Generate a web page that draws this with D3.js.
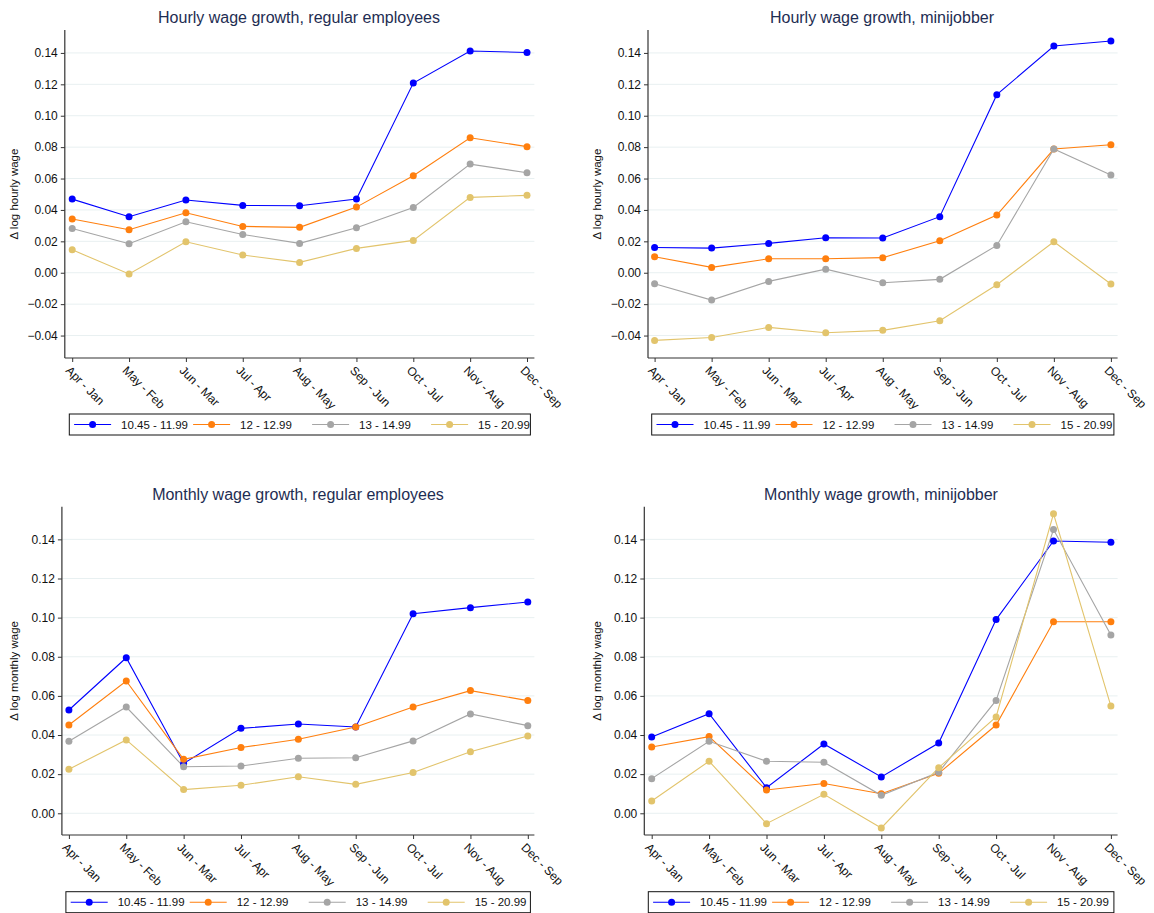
<!DOCTYPE html>
<html><head><meta charset="utf-8">
<script src="https://cdn.jsdelivr.net/npm/d3@7"></script>
<style>body{margin:0;background:#fff;} svg{display:block;font-family:"Liberation Sans",Arial,sans-serif;}</style>
</head><body>
<svg id="c" width="1154" height="913"></svg>
<script>
const categories = ["Apr - Jan","May - Feb","Jun - Mar","Jul - Apr","Aug - May","Sep - Jun","Oct - Jul","Nov - Aug","Dec - Sep"];
const seriesNames = ["10.45 - 11.99","12 - 12.99","13 - 14.99","15 - 20.99"];
const seriesColors = ["#0000ff","#ff7f0e","#a5a5a5","#e2c46c"];

const titles = ["Hourly wage growth, regular employees","Hourly wage growth, minijobber","Monthly wage growth, regular employees","Monthly wage growth, minijobber"];
const yTitles = ["\u0394 log hourly wage","\u0394 log hourly wage","\u0394 log monthly wage","\u0394 log monthly wage"];
const hourlyTicks = [-0.04,-0.02,0,0.02,0.04,0.06,0.08,0.10,0.12,0.14];
const monthlyTicks = [0,0.02,0.04,0.06,0.08,0.10,0.12,0.14];

// Hourly wage growth, regular employees
const hourlyRegular = [
  [0.0469,0.0357,0.0463,0.0429,0.0427,0.0469,0.1208,0.1412,0.1403],
  [0.0342,0.0274,0.0382,0.0295,0.0289,0.0418,0.0618,0.0860,0.0803],
  [0.0282,0.0185,0.0325,0.0244,0.0187,0.0287,0.0416,0.0692,0.0637],
  [0.0146,-0.0008,0.0197,0.0113,0.0066,0.0155,0.0206,0.0480,0.0493]
];
// Hourly wage growth, minijobber
const hourlyMini = [
  [0.0161,0.0157,0.0187,0.0223,0.0221,0.0357,0.1134,0.1444,0.1476],
  [0.0102,0.0034,0.0089,0.0089,0.0096,0.0204,0.0367,0.0788,0.0815],
  [-0.0070,-0.0174,-0.0055,0.0023,-0.0064,-0.0042,0.0174,0.0788,0.0622],
  [-0.0431,-0.0412,-0.0348,-0.0382,-0.0367,-0.0306,-0.0076,0.0197,-0.0072]
];
// Monthly wage growth, regular employees
const monthlyRegular = [
  [0.0528,0.0795,0.0255,0.0434,0.0456,0.0441,0.1020,0.1051,0.1080],
  [0.0451,0.0676,0.0276,0.0336,0.0378,0.0441,0.0543,0.0627,0.0576],
  [0.0368,0.0543,0.0238,0.0242,0.0281,0.0284,0.0370,0.0508,0.0448],
  [0.0225,0.0375,0.0121,0.0143,0.0187,0.0148,0.0208,0.0315,0.0395]
];
// Monthly wage growth, minijobber
const monthlyMini = [
  [0.0390,0.0509,0.0131,0.0354,0.0186,0.0359,0.0990,0.1392,0.1385],
  [0.0339,0.0392,0.0119,0.0152,0.0100,0.0204,0.0451,0.0979,0.0979],
  [0.0177,0.0368,0.0266,0.0261,0.0092,0.0210,0.0577,0.1450,0.0911],
  [0.0063,0.0266,-0.0053,0.0097,-0.0075,0.0233,0.0492,0.1531,0.0548]
];

const panels = [
  {data:hourlyRegular, ticks:hourlyTicks, yDom:[-0.0543,0.1546], ax:64.8, top:30, bottom:358, x0:72.2, x1:527, gridEnd:534.4, titleY:23, titleX:299, yLabX:18, legTop:414, legL:69.3, legR:530.4},
  {data:hourlyMini, ticks:hourlyTicks, yDom:[-0.0543,0.1546], ax:648, top:30, bottom:358, x0:654.6, x1:1110.9, gridEnd:1117.6, titleY:23, titleX:882, yLabX:601, legTop:414, legL:651.7, legR:1113.9},
  {data:monthlyRegular, ticks:monthlyTicks, yDom:[-0.0111,0.1567], ax:61.9, top:506.7, bottom:835, x0:68.9, x1:527.8, gridEnd:534.4, titleY:500, titleX:298, yLabX:18, legTop:891.7, legL:65.9, legR:530.4},
  {data:monthlyMini, ticks:monthlyTicks, yDom:[-0.0111,0.1567], ax:644.3, top:506.7, bottom:835, x0:651.7, x1:1110.9, gridEnd:1117.6, titleY:500, titleX:881, yLabX:601, legTop:891.7, legL:648.3, legR:1113.9}
];

const svg = d3.select("#c");
const fmt = d3.format(".2f");

panels.forEach((p,pi)=>{
  const g = svg.append("g");
  const y = d3.scaleLinear().domain(p.yDom).range([p.bottom,p.top]);
  const x = d3.scalePoint().domain(categories).range([p.x0,p.x1]);

  // gridlines
  g.append("g").selectAll("line").data(p.ticks).join("line")
    .attr("x1",p.ax).attr("x2",p.gridEnd)
    .attr("y1",d=>y(d)).attr("y2",d=>y(d))
    .attr("stroke","#e8f0f1").attr("stroke-width",1);

  // title
  g.append("text").attr("x",p.titleX).attr("y",p.titleY).attr("text-anchor","middle")
    .attr("font-size",16).attr("fill","#1e2d52").text(titles[pi]);

  // y axis
  const yAxis = d3.axisLeft(y).tickValues(p.ticks).tickFormat(fmt).tickSize(4).tickSizeOuter(0);
  const ya = g.append("g").attr("transform",`translate(${p.ax},0)`).call(yAxis);
  ya.select(".domain").attr("d",`M0,${p.top}V${p.bottom}`).attr("stroke","#333").attr("stroke-width",1.2);
  ya.selectAll(".tick line").attr("stroke","#333");
  ya.selectAll(".tick text").attr("font-size",12).attr("fill","#111").attr("x",-7).attr("font-family","'Liberation Sans',Arial,sans-serif");

  // x axis
  const xAxis = d3.axisBottom(x).tickSize(4).tickSizeOuter(0);
  const xa = g.append("g").attr("transform",`translate(0,${p.bottom})`).call(xAxis);
  xa.select(".domain").attr("d",`M${p.ax},0H${p.gridEnd}`).attr("stroke","#333").attr("stroke-width",1.2);
  xa.selectAll(".tick line").attr("stroke","#333");
  xa.selectAll(".tick text").attr("font-size",12).attr("fill","#111")
    .attr("font-family","'Liberation Sans',Arial,sans-serif")
    .attr("text-anchor","start").attr("dy",null).attr("y",0).attr("x",0)
    .attr("transform","translate(-1.5,7) rotate(45)").attr("dominant-baseline","hanging");

  // y title
  g.append("text").attr("transform",`translate(${p.yLabX},${(p.top+p.bottom)/2}) rotate(-90)`)
    .attr("text-anchor","middle").attr("font-size",11.5).attr("fill","#111").text(yTitles[pi]);

  // series
  const line = d3.line().x((d,i)=>x(categories[i])).y(d=>y(d));
  p.data.forEach((vals,si)=>{
    g.append("path").datum(vals).attr("d",line).attr("fill","none")
      .attr("stroke",seriesColors[si]).attr("stroke-width",1.1);
  });
  p.data.forEach((vals,si)=>{
    g.append("g").selectAll("circle").data(vals).join("circle")
      .attr("cx",(d,i)=>x(categories[i])).attr("cy",d=>y(d)).attr("r",3.5)
      .attr("fill",seriesColors[si]);
  });

  // legend
  const lg = g.append("g");
  lg.append("rect").attr("x",p.legL).attr("y",p.legTop).attr("width",p.legR-p.legL).attr("height",21)
    .attr("fill","#fff").attr("stroke","#111").attr("stroke-width",1);
  const cy = p.legTop+10.5;
  seriesNames.forEach((n,si)=>{
    const lx = p.legL + 4.8 + si*119;
    lg.append("line").attr("x1",lx).attr("x2",lx+37).attr("y1",cy).attr("y2",cy)
      .attr("stroke",seriesColors[si]).attr("stroke-width",1.1);
    lg.append("circle").attr("cx",lx+18.5).attr("cy",cy).attr("r",3.5).attr("fill",seriesColors[si]);
    lg.append("text").attr("x",lx+47).attr("y",cy+4.2).attr("font-size",11.5).attr("fill","#111").text(n);
  });
});
</script>
</body></html>
